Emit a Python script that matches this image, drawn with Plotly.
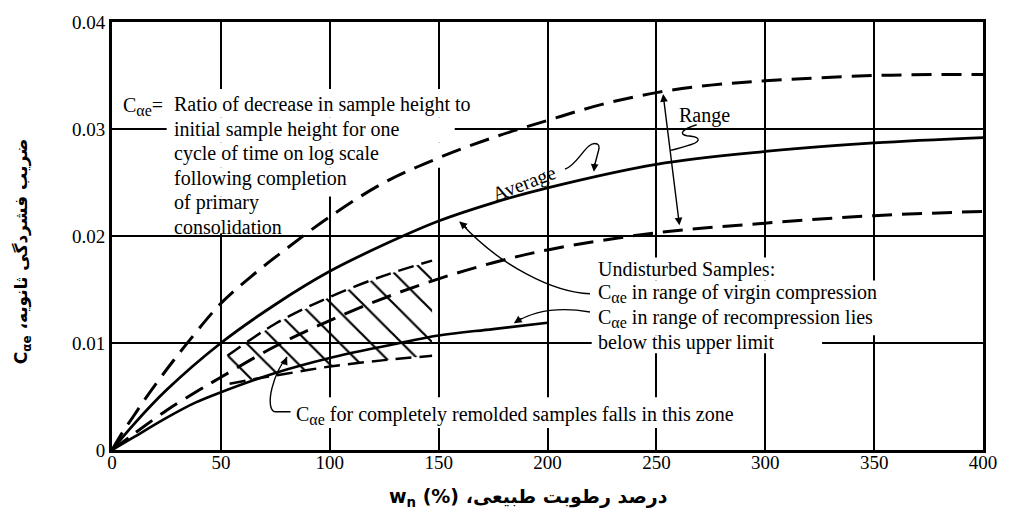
import plotly.graph_objects as go

# Natural water content w_n (%) and secondary compression index C_alpha_e
w_upper = [0, 5, 10, 15, 25, 35, 50, 65, 80, 100, 125, 150, 175, 200, 225, 250, 275, 300, 350, 400]
c_upper = [0, 0.0017, 0.0032, 0.0047, 0.0075, 0.0101, 0.0137, 0.0164, 0.0188, 0.0218, 0.0250,
           0.0273, 0.0292, 0.0308, 0.0323, 0.0334, 0.0341, 0.0345, 0.0350, 0.0351]

w_avg = [0, 10, 25, 50, 75, 100, 125, 150, 175, 200, 250, 300, 350, 400]
c_avg = [0, 0.0024, 0.0056, 0.0100, 0.0136, 0.0167, 0.0192, 0.0214, 0.0231, 0.0245,
         0.0267, 0.0279, 0.0287, 0.0292]

w_lower = [0, 10, 25, 40, 50, 75, 100, 125, 150, 175, 200, 250, 300, 350, 400]
c_lower = [0, 0.0015, 0.0037, 0.0056, 0.0068, 0.0097, 0.0121, 0.0142, 0.0160, 0.0175,
           0.0187, 0.0203, 0.0212, 0.0219, 0.0223]

w_recomp = [0, 10, 25, 38, 50, 75, 100, 125, 150, 175, 200]
c_recomp = [0, 0.0012, 0.0030, 0.0044, 0.0054, 0.0072, 0.0086, 0.0097, 0.0107, 0.0113, 0.0119]

# remolded-sample zone (hatched)
w_zone_top = [53, 75, 100, 125, 147]
c_zone_top = [0.0088, 0.0118, 0.0143, 0.0163, 0.0177]
w_zone_bot = [54, 70, 85, 100, 125, 147]
c_zone_bot = [0.0062, 0.0068, 0.0073, 0.0078, 0.0084, 0.0088]

x_ticks = [0, 50, 100, 150, 200, 250, 300, 350, 400]
y_ticks = [0, 0.01, 0.02, 0.03, 0.04]
y_ticktext = ["0", "0.01", "0.02", "0.03", "0.04"]

SERIF = "Liberation Serif, Times New Roman, serif"
BOLD_FA = "DejaVu Sans, Liberation Serif, sans-serif"
C_AE = "C<sub><span style='font-size:16px'>αe</span></sub>"

fig = go.Figure()

# hatched zone
fig.add_trace(go.Scatter(
    x=w_zone_top + w_zone_bot[::-1],
    y=c_zone_top + c_zone_bot[::-1],
    mode="lines", fill="toself", line=dict(width=0, color="black"),
    fillcolor="black",
    fillpattern=dict(shape="\\", size=22, solidity=0.1, fgcolor="black", fgopacity=1,
                     bgcolor="rgba(255,255,255,0)", fillmode="replace"),
    hoverinfo="skip", showlegend=False))

fig.add_trace(go.Scatter(x=w_zone_top, y=c_zone_top, mode="lines",
                         line=dict(color="black", width=2.5, dash="16px,8px", shape="spline"),
                         showlegend=False))
fig.add_trace(go.Scatter(x=w_zone_bot, y=c_zone_bot, mode="lines",
                         line=dict(color="black", width=2.5, dash="16px,8px", shape="spline"),
                         showlegend=False))

fig.add_trace(go.Scatter(x=w_upper, y=c_upper, mode="lines",
                         line=dict(color="black", width=3, dash="20px,10px", shape="spline"),
                         showlegend=False))
fig.add_trace(go.Scatter(x=w_avg, y=c_avg, mode="lines",
                         line=dict(color="black", width=2.8, shape="spline"),
                         showlegend=False))
fig.add_trace(go.Scatter(x=w_lower, y=c_lower, mode="lines",
                         line=dict(color="black", width=3, dash="20px,10px", shape="spline"),
                         showlegend=False))
fig.add_trace(go.Scatter(x=w_recomp, y=c_recomp, mode="lines",
                         line=dict(color="black", width=2.6, shape="spline"),
                         showlegend=False))

# white patches that interrupt the grid behind the text blocks
masks = [
    (2.7, 167.8, 0.03105, 0.03375),
    (25.1, 157.4, 0.02872, 0.03105),
    (25.1, 151.9, 0.02639, 0.02872),
    (25.1, 113.1, 0.02368, 0.02639),
    (25.1, 81.2, 0.02023, 0.02368),
    (220.3, 309.2, 0.01585, 0.01800),
    (220.3, 359.4, 0.01072, 0.01585),
    (220.3, 326.1, 0.00904, 0.01072),
    (81.2, 291.9, 0.00205, 0.00494),
]
shapes = []
for x0, x1, y0, y1 in masks:
    shapes.append(dict(type="rect", xref="x", yref="y", x0=x0, x1=x1, y0=y0, y1=y1,
                       fillcolor="white", line=dict(width=0), layer="between"))

# curved leader lines
leader = dict(color="black", width=1.4)
paths = [
    # "Average" curl
    "M 208,0.02625 C 214,0.0266 218,0.0290 222.8,0.0286 C 225,0.0284 222.5,0.0277 221.3,0.0262",
    # "Range" squiggle
    "M 268.5,0.0304 C 262,0.0300 260,0.0295 264,0.02937 C 270,0.0293 271,0.0289 266,0.02855 "
    "C 262,0.0283 259,0.0281 256.4,0.0280",
    # virgin compression pointer
    "M 219.5,0.01460 C 203,0.0147 178,0.0172 159.8,0.0213",
    # recompression pointer
    "M 219.5,0.01290 C 208,0.0133 195,0.0132 185,0.0119",
    # remolded zone pointer
    "M 82,0.00357 L 75,0.00357 C 72.5,0.0036 72,0.0046 73.5,0.0058 C 75,0.0070 77.5,0.0080 80.4,0.0087",
]
for p in paths:
    shapes.append(dict(type="path", xref="x", yref="y", path=p, line=leader, layer="above"))

ann = []
txt = dict(family=SERIF, size=20, color="black")


def label(x, y, text, xanchor="left", angle=0):
    ann.append(dict(x=x, y=y, xref="x", yref="y", text=text, showarrow=False,
                    xanchor=xanchor, yanchor="middle", font=txt, textangle=angle))


label(4.0, 0.03215, C_AE + "=")
label(27.7, 0.03226, "Ratio of decrease in sample height to")
label(27.7, 0.02998, "initial sample height for one")
label(27.7, 0.02769, "cycle of time on log scale")
label(27.7, 0.02541, "following completion")
label(27.7, 0.02312, "of primary")
label(27.7, 0.02084, "consolidation")

label(189.3, 0.0249, "Average", xanchor="center", angle=-21)
label(272.3, 0.03124, "Range", xanchor="center")

label(222.1, 0.01688, "Undisturbed Samples:")
label(222.1, 0.01460, C_AE + " in range of virgin compression")
label(222.1, 0.01227, C_AE + " in range of recompression lies")
label(222.1, 0.01004, "below this upper limit")

label(83.5, 0.00326, C_AE + " for completely remolded samples falls in this zone")

# arrowheads
def head(x, y, ax, ay):
    ann.append(dict(x=x, y=y, xref="x", yref="y", ax=ax, ay=ay, text="", showarrow=True,
                    arrowhead=2, arrowsize=1.1, arrowwidth=1.4, arrowcolor="black"))


head(221.3, 0.0260, 1, -10)
head(159.5, 0.02135, 9, 8)
head(184.6, 0.01185, 9, -6)
head(80.4, 0.0087, -4, 9)

# double-headed "Range" arrow
ann.append(dict(x=260.6, y=0.0210, ax=253.0, ay=0.0334, axref="x", ayref="y",
                xref="x", yref="y", text="", showarrow=True, arrowside="end+start",
                arrowhead=2, startarrowhead=2, arrowsize=1.1, arrowwidth=1.4,
                arrowcolor="black"))

# axis titles
ann.append(dict(x=0.478, y=-0.11, xref="paper", yref="paper",
                text="<b>w<sub>n</sub> (%) درصد رطوبت طبیعی،\u200f</b>",
                showarrow=False, xanchor="center", yanchor="middle",
                font=dict(family=BOLD_FA, size=19, color="black")))
ann.append(dict(x=-0.1026, y=0.4636, xref="paper", yref="paper",
                text="<b>C<sub>αe</sub> ضریب فشردگی ثانویه،\u200f</b>",
                showarrow=False, xanchor="center", yanchor="middle", textangle=-90,
                font=dict(family=BOLD_FA, size=17, color="black")))

axis_common = dict(showgrid=True, gridcolor="black", gridwidth=1.5, showline=True,
                   linecolor="black", linewidth=3, mirror=True, zeroline=False,
                   ticks="", tickfont=dict(family=SERIF, size=19, color="black"))

fig.update_layout(
    width=1009, height=518,
    margin=dict(l=112, r=20, t=21, b=68),
    paper_bgcolor="white", plot_bgcolor="white",
    xaxis=dict(range=[0, 400], tickvals=x_ticks, ticklabelstandoff=-7, **axis_common),
    yaxis=dict(range=[0, 0.04], tickvals=y_ticks, ticktext=y_ticktext, **axis_common),
    shapes=shapes, annotations=ann, showlegend=False,
)

fig.write_html("out.html")
